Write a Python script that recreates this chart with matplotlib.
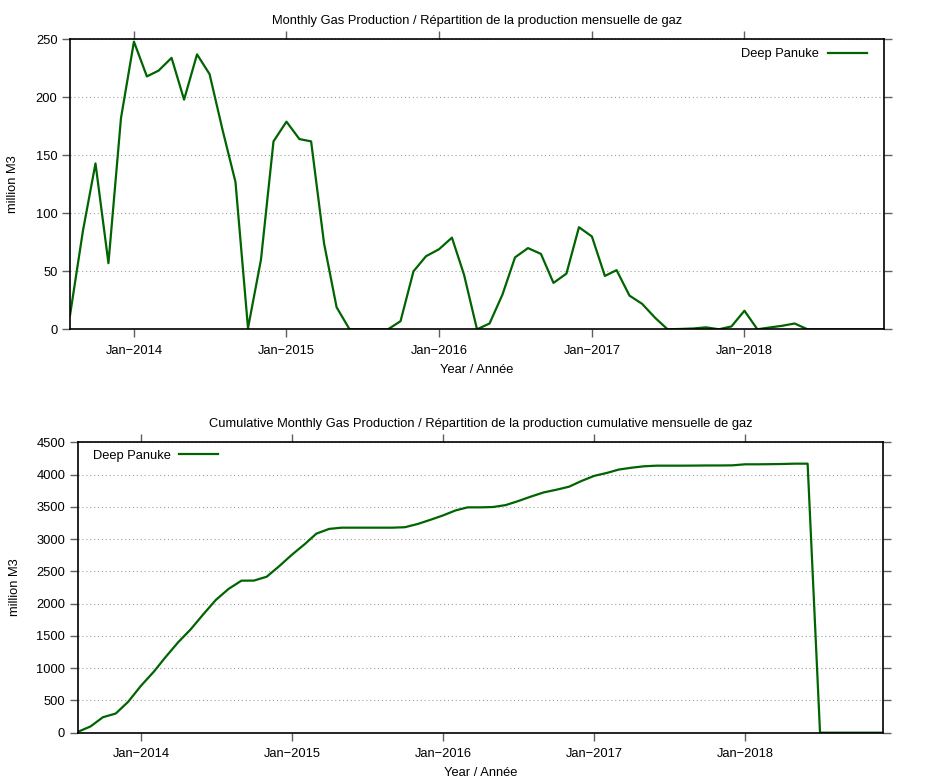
import matplotlib
matplotlib.use("Agg")
import matplotlib.pyplot as plt
import matplotlib.dates as mdates
import pandas as pd
import datetime as dt

plt.rcParams['font.family'] = ['Liberation Sans', 'DejaVu Sans']
plt.rcParams['font.size'] = 9.3

# Monthly dates Aug 2013 .. Dec 2018
months = pd.date_range('2013-08-01', '2018-12-01', freq='MS')

monthly = [
    12, 85, 143, 57, 182,                                   # 2013 Aug-Dec
    248, 218, 223, 234, 198, 237, 220, 172, 127, 1, 60, 162,  # 2014
    179, 164, 162, 74, 19, 0, 0, 0, 0, 7, 50, 63,            # 2015
    69, 79, 47, 0, 5, 30, 62, 70, 65, 40, 48, 88,            # 2016
    80, 46, 51, 29, 22, 10, 0, 0.3, 0.7, 1.7, 0, 2.5,        # 2017
    16, 0, 1.5, 3, 5, 0, 0, 0, 0, 0, 0, 0,                   # 2018
]

cumulative = [
    12, 97, 240, 297, 479,
    727, 945, 1168, 1402, 1600, 1837, 2057, 2229, 2356, 2357, 2417, 2579,
    2758, 2922, 3084, 3158, 3177, 3177, 3177, 3177, 3177, 3184, 3234, 3297,
    3366, 3445, 3492, 3492, 3497, 3527, 3589, 3659, 3724, 3764, 3812, 3900,
    3980, 4026, 4077, 4106, 4128, 4138, 4138, 4138, 4139, 4141, 4141, 4143,
    4159, 4159, 4161, 4164, 4169, 4169, 0, 0, 0, 0, 0, 0,
]

series_name = "Deep Panuke"
top_title = "Monthly Gas Production / Répartition de la production mensuelle de gaz"
bot_title = "Cumulative Monthly Gas Production / Répartition de la production cumulative mensuelle de gaz"
xlabel = "Year / Année"
ylabel = "million M3"
top_yticks = [0, 50, 100, 150, 200, 250]
bot_yticks = [0, 500, 1000, 1500, 2000, 2500, 3000, 3500, 4000, 4500]
year_ticks = [dt.datetime(y, 1, 1) for y in [2014, 2015, 2016, 2017, 2018]]

LINE = '#006400'
W, H = 932, 781
fig = plt.figure(figsize=(W / 100, H / 100), dpi=100)

ax1 = fig.add_axes([70 / W, 1 - 329.3 / H, 814 / W, 290 / H])
ax2 = fig.add_axes([77.7 / W, 1 - 732.7 / H, 805.6 / W, 290.4 / H])


def style(ax, yticks, data, title, legloc, bbox, ylpad):
    ax.plot(months, data, color=LINE, lw=1.6, label=series_name)
    ax.set_xlim(months[0], months[-1])
    ax.set_ylim(yticks[0], yticks[-1])
    ax.set_yticks(yticks)
    ax.set_xticks(year_ticks)
    ax.xaxis.set_major_formatter(mdates.DateFormatter('Jan\u2212%Y'))
    ax.tick_params(direction='out', length=6, width=1, color='#606060',
                   top=True, right=True, labelsize=9.3, pad=3)
    ax.tick_params(axis='x', pad=5)
    ax.grid(axis='y', linestyle=(0, (1, 2.5)), color='#a0a0a0', lw=0.8)
    for s in ax.spines.values():
        s.set_linewidth(1.2)
        s.set_color('black')
    ax.set_title(title, fontsize=9.3, pad=11)
    ax.set_xlabel(xlabel, fontsize=9.3, labelpad=5)
    ax.set_ylabel(ylabel, fontsize=9.3, labelpad=ylpad)
    leg = ax.legend(loc=legloc, bbox_to_anchor=bbox, frameon=False,
                    markerfirst=False, handlelength=3.0, handletextpad=0.7,
                    fontsize=9.3, borderaxespad=0)
    return leg


style(ax1, top_yticks, monthly, top_title, 'upper right', (0.985, 0.987), 12)
style(ax2, bot_yticks, cumulative, bot_title, 'upper left', (0.012, 0.993), 11)

fig.savefig('out.png', dpi=100)
